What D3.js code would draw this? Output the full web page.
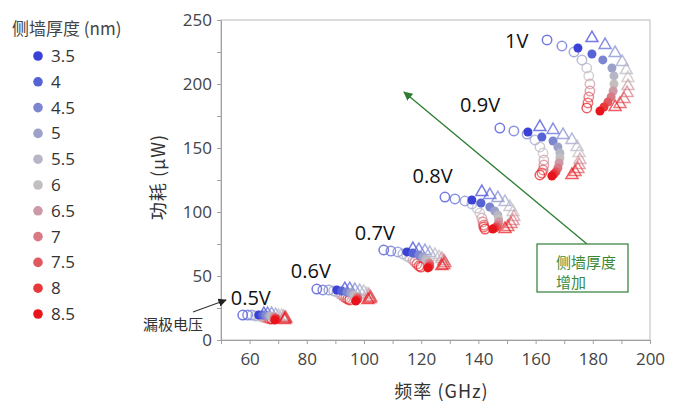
<!DOCTYPE html>
<html>
<head>
<meta charset="utf-8">
<script src="https://cdn.jsdelivr.net/npm/d3@7"></script>
<style>
  body { margin: 0; background: #fff; }
  svg { display: block; font-family: "Noto Sans CJK SC", "Open Sans", sans-serif; }
</style>
</head>
<body>
<div id="chart"></div>
<script>
// legend: side-wall thickness (nm)
const thickness = ["3.5", "4", "4.5", "5", "5.5", "6", "6.5", "7", "7.5", "8", "8.5"]
const colors = ["#3b41d6", "#5563d6", "#7c86d0", "#9ca1ca", "#b6b6c6", "#c4bfbf",
	"#cc9aa6", "#d87a86", "#e05860", "#e8383a", "#e8141c"]

const voltages = ["0.5V", "0.6V", "0.7V", "0.8V", "0.9V", "1V"]

// frequency (GHz) per thickness, one row per voltage
const circX = [
	[57.6, 59.3, 60.7, 62.1, 63.2, 64.2, 64.9, 65.6, 66.3, 67.0, 67.7],
	[83.5, 85.6, 87.7, 89.4, 90.5, 91.5, 92.2, 92.9, 93.6, 94.3, 95.0],
	[106.9, 109.4, 111.8, 113.6, 115.0, 116.0, 117.1, 117.8, 118.5, 119.2, 119.9],
	[128.3, 131.8, 135.3, 137.7, 139.5, 140.5, 141.2, 141.6, 141.9, 141.9, 142.3],
	[147.5, 152.4, 157.0, 159.8, 161.5, 162.6, 162.9, 162.9, 162.6, 162.2, 161.5],
	[164.0, 169.2, 173.4, 176.2, 177.9, 178.6, 179.0, 179.0, 178.6, 178.3, 177.9],
]
const circY = [
	[19.5, 19.5, 19.5, 18.8, 18.8, 18.0, 18.0, 17.2, 17.2, 16.4, 16.4],
	[39.8, 39.1, 39.1, 38.3, 37.5, 35.9, 35.2, 33.6, 32.8, 32.0, 31.3],
	[70.3, 69.5, 68.8, 67.2, 65.6, 64.1, 62.5, 60.9, 59.4, 57.8, 57.0],
	[111.7, 110.2, 108.6, 106.3, 103.1, 99.2, 95.3, 92.2, 89.8, 88.3, 86.7],
	[165.6, 163.3, 160.9, 156.3, 150.8, 146.1, 140.6, 136.7, 132.8, 130.5, 128.9],
	[234.4, 229.7, 225.0, 218.8, 212.5, 206.3, 200.0, 194.5, 189.8, 185.2, 181.3],
]
const dotX = [
	[63.2, 64.6, 65.6, 66.7, 67.4, 68.1, 68.4, 68.8, 69.1, 69.1, 68.8],
	[90.5, 92.2, 94.0, 95.4, 96.4, 97.1, 97.5, 97.8, 97.8, 97.5, 97.1],
	[115.0, 117.1, 119.2, 120.6, 121.6, 122.3, 122.7, 123.0, 123.0, 122.7, 122.3],
	[137.7, 140.9, 144.0, 145.7, 146.8, 147.1, 147.1, 146.8, 146.4, 145.7, 145.0],
	[157.3, 162.2, 166.1, 167.8, 168.5, 168.5, 168.2, 167.8, 167.1, 166.4, 165.7],
	[174.8, 179.7, 183.5, 186.7, 187.4, 187.4, 187.1, 186.4, 185.3, 183.9, 182.5],
]
const dotY = [
	[19.5, 19.5, 19.5, 18.8, 18.8, 18.0, 18.0, 17.2, 17.2, 16.4, 15.6],
	[39.1, 38.3, 37.5, 36.7, 35.2, 34.4, 33.6, 32.8, 32.0, 31.3, 30.5],
	[68.8, 68.0, 66.4, 64.8, 63.3, 61.7, 60.2, 59.4, 57.8, 57.0, 56.3],
	[109.4, 107.0, 103.9, 100.8, 97.7, 94.5, 92.2, 89.8, 88.3, 87.5, 86.7],
	[162.5, 158.6, 155.5, 150.8, 146.1, 142.2, 138.3, 134.4, 131.3, 129.7, 128.1],
	[228.1, 223.4, 218.8, 212.5, 206.3, 200.0, 194.5, 189.8, 185.9, 182.0, 178.9],
]
const triX = [
	[65.0, 66.3, 67.7, 69.1, 70.1, 71.2, 71.9, 72.2, 72.6, 72.6, 72.2],
	[93.3, 95.0, 96.8, 98.5, 99.9, 101.0, 101.7, 102.1, 102.4, 102.1, 101.4],
	[117.1, 119.2, 121.3, 123.0, 124.8, 126.2, 127.2, 127.9, 128.3, 127.9, 127.2],
	[141.2, 144.0, 146.8, 149.3, 151.0, 152.1, 152.4, 152.1, 151.4, 150.3, 149.3],
	[161.5, 166.1, 169.6, 172.7, 174.5, 175.2, 175.5, 175.2, 174.8, 173.8, 172.7],
	[179.7, 184.3, 187.8, 190.3, 191.7, 192.3, 192.3, 192.0, 190.9, 189.5, 187.8],
]
const triY = [
	[20.3, 20.3, 20.3, 19.5, 18.8, 18.8, 18.0, 17.2, 17.2, 16.4, 15.6],
	[39.8, 39.8, 39.1, 38.3, 37.5, 35.9, 35.2, 33.6, 32.8, 32.0, 31.3],
	[71.1, 70.3, 69.5, 68.0, 66.4, 64.8, 63.3, 61.7, 60.2, 58.6, 57.8],
	[115.6, 113.3, 110.9, 107.8, 103.9, 100.0, 96.1, 93.0, 90.6, 88.3, 86.7],
	[166.4, 164.1, 160.2, 156.3, 150.8, 146.1, 140.6, 136.7, 133.6, 131.3, 128.9],
	[235.9, 230.5, 224.2, 217.2, 210.9, 204.7, 198.4, 193.0, 188.3, 184.4, 182.0],
]
// voltage label anchors (freq, power)
const labelX = [53.4, 74.4, 96.8, 117, 133.6, 149.3]
const labelY = [27.3, 48.4, 78, 122.7, 178, 228]

const xTicks = [60, 80, 100, 120, 140, 160, 180, 200]
const yTicks = [0, 50, 100, 150, 200, 250]

const W = 675, H = 406
const margin = { left: 221, right: 25, top: 20, bottom: 66 }
const x = d3.scaleLinear().domain([50, 200]).range([margin.left, W - margin.right])
const y = d3.scaleLinear().domain([0, 250]).range([H - margin.bottom, margin.top])

const svg = d3.select("#chart").append("svg").attr("width", W).attr("height", H)

// frame
svg.append("rect")
	.attr("x", x(50)).attr("y", y(250))
	.attr("width", x(200) - x(50)).attr("height", y(0) - y(250))
	.attr("fill", "none").attr("stroke", "#bbb")

const xAxis = svg.append("g").attr("transform", `translate(0,${y(0)})`)
	.call(d3.axisBottom(x).tickValues(d3.range(50, 201, 10)).tickSize(4)
		.tickFormat(d => xTicks.includes(d) ? d : ""))
const yAxis = svg.append("g").attr("transform", `translate(${x(50)},0)`)
	.call(d3.axisLeft(y).tickValues(d3.range(0, 251, 25)).tickSize(4)
		.tickFormat(d => yTicks.includes(d) ? d : ""))

for (const ax of [xAxis, yAxis]) {
	ax.select(".domain").attr("stroke", "#a0a0a0")
	ax.selectAll(".tick line").attr("stroke", "#a0a0a0")
	ax.selectAll(".tick text").attr("fill", "#444").style("font-size", "17px")
		.style("font-family", "'Open Sans', sans-serif")
}
xAxis.selectAll(".tick text").attr("dy", "1.05em")
yAxis.selectAll(".tick text").attr("dx", "-2")

// axis titles
svg.append("text")
	.attr("x", (x(50) + x(200)) / 2 + 6).attr("y", 398)
	.attr("text-anchor", "middle").attr("fill", "#333").style("font-size", "18px")
	.style("letter-spacing", "1px")
	.text("频率 (GHz)")
svg.append("text")
	.attr("transform", `translate(165,${(y(0) + y(250)) / 2 - 3}) rotate(-90)`)
	.attr("text-anchor", "middle").attr("fill", "#333").style("font-size", "18px")
	.style("letter-spacing", "1px")
	.text("功耗 (μW)")

// markers
const plot = svg.append("g")
const tri = d3.symbol().type(d3.symbolTriangle).size(62)

voltages.forEach((v, vi) => {
	const g = plot.append("g").attr("class", "group")
	g.selectAll("circle.open")
		.data(thickness)
		.enter()
		.append("circle")
		.attr("class", "open")
		.attr("cx", (d, i) => x(circX[vi][i]))
		.attr("cy", (d, i) => y(circY[vi][i]))
		.attr("r", 4.7)
		.attr("fill", "none")
		.attr("stroke", (d, i) => colors[i])
		.attr("stroke-opacity", 0.7)
		.attr("stroke-width", 1.5)
	g.selectAll("path.tri")
		.data(thickness)
		.enter()
		.append("path")
		.attr("class", "tri")
		.attr("d", tri)
		.attr("transform", (d, i) => `translate(${x(triX[vi][i])},${y(triY[vi][i])})`)
		.attr("fill", "none")
		.attr("stroke", (d, i) => colors[i])
		.attr("stroke-opacity", 0.7)
		.attr("stroke-width", 1.5)
	g.selectAll("circle.dot")
		.data(thickness)
		.enter()
		.append("circle")
		.attr("class", "dot")
		.attr("cx", (d, i) => x(dotX[vi][i]))
		.attr("cy", (d, i) => y(dotY[vi][i]))
		.attr("r", 4.5)
		.attr("fill", (d, i) => colors[i])

	svg.append("text")
		.attr("x", x(labelX[vi])).attr("y", y(labelY[vi]))
		.attr("fill", "#111").style("font-size", "20px")
		.style("font-family", "'Open Sans', sans-serif")
		.text(v)
})

// legend
svg.append("text")
	.attr("x", 12).attr("y", 35)
	.attr("fill", "#444").style("font-size", "17px")
	.text("侧墙厚度 (nm)")
const lg = svg.append("g")
	.selectAll("g")
	.data(thickness)
	.enter()
	.append("g")
	.attr("transform", (d, i) => `translate(0,${56 + i * 25.8})`)
lg.append("circle").attr("cx", 38).attr("cy", 0).attr("r", 4.8)
	.attr("fill", (d, i) => colors[i])
lg.append("text").attr("x", 51).attr("y", 6)
	.attr("fill", "#333").style("font-size", "17px")
	.style("font-family", "'Open Sans', sans-serif")
	.text(d => d)

// arrow markers
const defs = svg.append("defs")
defs.append("marker").attr("id", "arrBlack")
	.attr("viewBox", "0 0 10 10").attr("refX", 9).attr("refY", 5)
	.attr("markerWidth", 7).attr("markerHeight", 7).attr("orient", "auto")
	.append("path").attr("d", "M0,0L10,5L0,10z").attr("fill", "#222")
defs.append("marker").attr("id", "arrGreen")
	.attr("viewBox", "0 0 10 10").attr("refX", 9).attr("refY", 5)
	.attr("markerWidth", 7).attr("markerHeight", 7).attr("orient", "auto")
	.append("path").attr("d", "M0,0L10,5L0,10z").attr("fill", "#2e7d32")

// drain-voltage annotation
svg.append("line")
	.attr("x1", 193).attr("y1", 312).attr("x2", 226).attr("y2", 300)
	.attr("stroke", "#333").attr("stroke-width", 1.2)
	.attr("marker-end", "url(#arrBlack)")
svg.append("text")
	.attr("x", 143).attr("y", 330)
	.attr("fill", "#333").style("font-size", "15px")
	.text("漏极电压")

// thickness-increase annotation
svg.append("line")
	.attr("x1", 587).attr("y1", 244).attr("x2", 404).attr("y2", 92)
	.attr("stroke", "#2e7d32").attr("stroke-width", 1.3)
	.attr("marker-end", "url(#arrGreen)")
svg.append("rect")
	.attr("x", 537).attr("y", 244).attr("width", 91).attr("height", 48)
	.attr("fill", "#fff").attr("stroke", "#2e7d32").attr("stroke-width", 1.2)
svg.append("text")
	.attr("x", 556).attr("y", 268)
	.attr("fill", "#3a8a3a").style("font-size", "15px")
	.text("侧墙厚度")
svg.append("text")
	.attr("x", 556).attr("y", 288)
	.attr("fill", "#3a8a3a").style("font-size", "15px")
	.text("增加")
</script>
</body>
</html>
